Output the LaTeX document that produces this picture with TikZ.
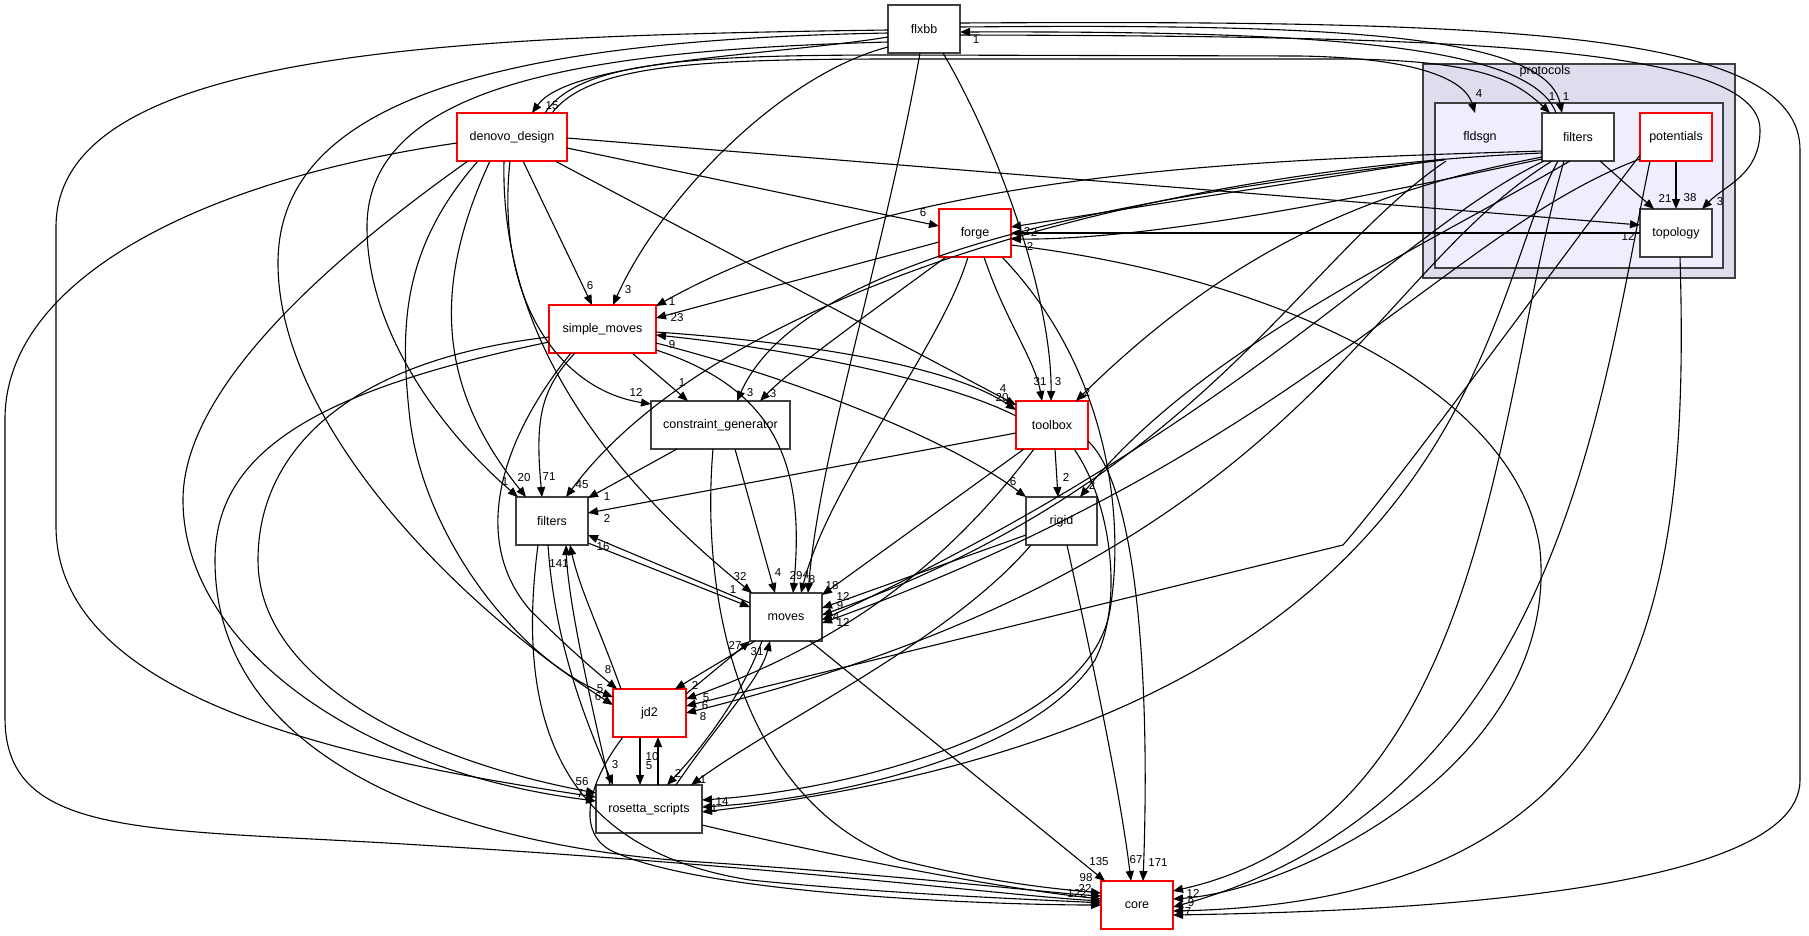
\documentclass[tikz,border=0pt]{standalone}
\usepackage{fontspec}
\setmainfont{Liberation Sans}
\usetikzlibrary{arrows.meta,calc}
\definecolor{ngray}{HTML}{404040}
\definecolor{clout}{HTML}{DDDDEE}
\definecolor{clin}{HTML}{EEEEFF}
\newcommand\nfont{\fontsize{12.5}{14}\selectfont}
\newcommand\lfont{\fontsize{11.5}{13}\selectfont}
\tikzset{
  nd/.style={draw=ngray, line width=1.2pt, fill=white, minimum width=72pt, minimum height=48pt, inner sep=0pt, outer sep=0pt, font=\nfont},
  rn/.style={nd, draw=red},
  e/.style={line width=1.1pt, -{Triangle[length=10pt,width=8pt]}},
  lb/.style={font=\lfont, inner sep=0pt},
}
\begin{document}
\begin{tikzpicture}[x=1pt,y=-1pt]
\useasboundingbox (0,0) rectangle (1809,935);
% clusters
\node[draw=ngray, fill=clout, line width=1.2pt, minimum width=312pt, minimum height=214pt, inner sep=0pt] (cprot) at (1579,171) {};
\node[lb, font=\nfont] (cprotl) at (1545,71) {protocols};
\node[draw=ngray, fill=clin, line width=1.6pt, minimum width=288pt, minimum height=165pt, inner sep=0pt] (cfld) at (1579,185.5) {};
\node[font=\nfont, minimum width=72pt, minimum height=48pt, inner sep=0pt, outer sep=0pt] (fld) at (1480,137) {fldsgn};
\node[nd] (pfil) at (1578,137) {filters};
\node[rn] (pot) at (1676,137) {potentials};
\node[nd] (topo) at (1676,233) {topology};
% nodes
\node[nd] (flx) at (924,29) {flxbb};
\node[rn, minimum width=110pt] (den) at (512,137) {denovo\_design};
\node[rn] (forge) at (975,233) {forge};
\node[rn, minimum width=107pt] (sm) at (602.5,329) {simple\_moves};
\node[nd, minimum width=139pt] (cg) at (720.5,425) {constraint\_generator};
\node[rn] (tb) at (1052,425) {toolbox};
\node[nd] (fil) at (552,521) {filters};
\node[nd, minimum width=71pt] (rig) at (1061.5,521) {rigid};
\node[nd] (mov) at (786,617) {moves};
\node[rn, minimum width=73pt] (jd) at (649.5,713) {jd2};
\node[nd, minimum width=106pt] (ros) at (649,809) {rosetta\_scripts};
\node[rn] (core) at (1137,905) {core};
% edges
\draw[e] ($(flx.north west)+(0,32)$) .. controls (780,55) and (570,60) .. ($(den.north west)+(75,0)$);
\draw[e] ($(flx.north west)+(0,25)$) .. controls (450,36) and (56,50) .. (56,227) -- (56,526) .. controls (56,700) and (350,760) .. ($(ros.north west)+(0,12)$);
\draw[e] ($(den.north west)+(0,30)$) .. controls (200,180) and (5,280) .. (5,419) -- (5,718) .. controls (5,840) and (150,828) .. (420,845) .. controls (800,868) and (1000,895) .. ($(core.north west)+(0,20)$);
\draw[e] ($(flx.north west)+(0,28)$) .. controls (500,40) and (278,100) .. (278,263) .. controls (278,420) and (450,600) .. ($(jd.north west)+(0,16)$);
\draw[e] ($(flx.north west)+(0,37)$) .. controls (600,50) and (367,80) .. (367,227) .. controls (367,330) and (440,430) .. ($(fil.north west)+(2,0)$);
\draw[e] ($(flx.north west)+(0,42)$) .. controls (780,75) and (660,200) .. ($(sm.north west)+(64,0)$);
\draw[e] ($(flx.north west)+(32,48)$) .. controls (885,250) and (820,450) .. ($(mov.north west)+(58,0)$);
\draw[e] ($(flx.north west)+(55,48)$) .. controls (1000,150) and (1052,300) .. ($(tb.north west)+(35,0)$);
\draw[e] ($(forge.north west)+(45,48)$) .. controls (1005,320) and (1035,360) .. ($(tb.north west)+(26,0)$);
\draw[e] ($(den.north west)+(88,0)$) .. controls (580,60) and (700,55) .. (900,55) -- (1300,56) .. controls (1420,58) and (1465,80) .. ($(fld.north west)+(31,0)$);
\draw[e] ($(den.north west)+(95,0)$) .. controls (590,64) and (700,59) .. (900,59) -- (1350,59) .. controls (1480,61) and (1515,80) .. ($(pfil.north west)+(8,0)$);
\draw[e] ($(flx.north west)+(72,22)$) .. controls (1300,24) and (1545,30) .. ($(pfil.north west)+(20,0)$);
\draw[e] ($(pfil.north west)+(14,0)$) .. controls (1530,42) and (1300,31) .. ($(flx.north west)+(72,27)$);
\draw[e] ($(flx.north west)+(72,30)$) .. controls (1450,36) and (1760,45) .. (1760,130) .. controls (1760,175) and (1725,185) .. ($(topo.north west)+(62,0)$);
\draw[e] ($(flx.north west)+(72,18)$) .. controls (1500,20) and (1800,30) .. (1800,150) -- (1800,780) .. controls (1800,900) and (1350,912) .. ($(core.north west)+(72,34)$);
\draw[e] ($(den.north west)+(66,48)$) -- ($(sm.north west)+(43,0)$);
\draw[e] ($(den.north west)+(110,35)$) -- ($(forge.north west)+(0,17)$);
\draw[e] ($(den.north west)+(110,25)$) -- ($(topo.north west)+(0,16)$);
\draw[e] ($(den.north west)+(98,48)$) -- ($(tb.north west)+(0,4)$);
\draw[e] ($(den.north west)+(53,48)$) .. controls (495,300) and (560,390) .. ($(cg.north west)+(0,3)$);
\draw[e] ($(den.north west)+(33,48)$) .. controls (430,290) and (440,390) .. ($(fil.north west)+(10,0)$);
\draw[e] ($(den.north west)+(21,48)$) .. controls (400,250) and (400,330) .. (410,420) .. controls (425,540) and (520,660) .. ($(jd.north west)+(0,8)$);
\draw[e] ($(den.north west)+(47,48)$) .. controls (500,330) and (600,470) .. ($(mov.north west)+(2,0)$);
\draw[e] ($(den.north west)+(11,48)$) .. controls (300,280) and (183,400) .. (183,500) .. controls (183,640) and (350,770) .. ($(ros.north west)+(0,16)$);
\draw[e] ($(sm.north west)+(83,48)$) -- ($(cg.north west)+(37,0)$);
\draw[e] ($(sm.north west)+(26,48)$) .. controls (540,390) and (535,420) .. ($(fil.north west)+(26,0)$);
\draw[e] ($(sm.north west)+(22,48)$) .. controls (500,440) and (470,540) .. (530,610) .. controls (570,650) and (600,675) .. ($(jd.north west)+(4,0)$);
\draw[e] ($(sm.north west)+(107,27)$) .. controls (800,342) and (950,365) .. ($(tb.north west)+(0,9)$);
\draw[e] ($(tb.north west)+(0,15)$) .. controls (950,382) and (800,350) .. ($(sm.north west)+(107,30)$);
\draw[e] ($(sm.north west)+(107,38)$) .. controls (800,380) and (950,440) .. ($(rig.north west)+(0,0)$);
\draw[e] ($(sm.north west)+(107,45)$) .. controls (780,390) and (805,470) .. ($(mov.north west)+(43,0)$);
\draw[e] ($(sm.north west)+(0,32)$) .. controls (350,360) and (258,450) .. (258,560) .. controls (258,680) and (420,760) .. ($(ros.north west)+(0,8)$);
\draw[e] ($(sm.north west)+(0,37)$) .. controls (320,390) and (215,450) .. (215,560) .. controls (215,780) and (500,850) .. (700,862) .. controls (900,875) and (1050,893) .. ($(core.north west)+(0,15)$);
\draw[e] ($(forge.north west)+(0,33)$) -- ($(sm.north west)+(107,13)$);
\draw[e] ($(forge.north west)+(7,48)$) .. controls (860,320) and (790,370) .. ($(cg.north west)+(109,0)$);
\draw[e] ($(forge.north west)+(29,48)$) .. controls (940,350) and (830,480) .. ($(mov.north west)+(51,0)$);
\draw[e] ($(forge.north west)+(63,48)$) .. controls (1110,370) and (1125,520) .. (1110,610) .. controls (1090,730) and (850,790) .. ($(ros.north west)+(106,15)$);
\draw[e] ($(forge.north west)+(72,36)$) .. controls (1300,280) and (1520,400) .. (1540,550) .. controls (1560,760) and (1300,890) .. ($(core.north west)+(72,18)$);
\draw[e] ($(tb.north west)+(0,32)$) -- ($(fil.north west)+(72,16)$);
\draw[e] ($(tb.north west)+(8,48)$) -- ($(mov.north west)+(72,2)$);
\draw[e] ($(tb.north west)+(18,48)$) .. controls (950,560) and (850,640) .. ($(jd.north west)+(73,10)$);
\draw[e] ($(tb.north west)+(39,48)$) -- ($(rig.north west)+(32,0)$);
\draw[e] ($(tb.north west)+(58,48)$) .. controls (1110,500) and (1125,600) .. (1095,660) .. controls (1030,760) and (820,800) .. ($(ros.north west)+(106,22)$);
\draw[e] ($(tb.north west)+(72,40)$) .. controls (1140,490) and (1150,700) .. ($(core.north west)+(42,0)$);
\draw[e] ($(rig.north west)+(0,38)$) -- ($(mov.north west)+(72,15)$);
\draw[e] ($(rig.north west)+(5,48)$) .. controls (950,640) and (780,720) .. ($(ros.north west)+(95,0)$);
\draw[e] ($(rig.north west)+(41,48)$) .. controls (1090,650) and (1120,790) .. ($(core.north west)+(30,0)$);
\draw[e] ($(pfil.north west)+(28,48)$) .. controls (1400,260) and (1200,350) .. ($(rig.north west)+(54,0)$);
\draw[e] ($(pfil.north west)+(0,44)$) .. controls (1400,185) and (1250,230) .. ($(tb.north west)+(60,0)$);
\draw[e] ($(pfil.north west)+(0,38)$) .. controls (1250,160) and (900,170) .. ($(sm.north west)+(107,1)$);
\draw[e] ($(pfil.north west)+(0,40)$) .. controls (1150,170) and (720,290) .. ($(fil.north west)+(50,0)$);
\draw[e] ($(pfil.north west)+(58,48)$) -- ($(topo.north west)+(14,0)$);
\draw[e] ($(pfil.north west)+(0,46)$) .. controls (1350,200) and (1150,240) .. ($(forge.north west)+(72,30)$);
\draw[e] ($(pfil.north west)+(2,48)$) .. controls (1400,230) and (1250,420) .. ($(mov.north west)+(72,27)$);
\draw[e] ($(pfil.north west)+(10,48)$) .. controls (1360,280) and (1300,560) .. ($(jd.north west)+(73,24)$);
\draw[e] ($(pfil.north west)+(16,48)$) .. controls (1480,300) and (1480,720) .. ($(ros.north west)+(106,27)$);
\draw[e] ($(pfil.north west)+(22,48)$) .. controls (1495,400) and (1490,820) .. ($(core.north west)+(72,10)$);
\draw[e] ($(fld.north west)+(0,46)$) -- ($(forge.north west)+(72,18)$);
\draw[e] ($(fld.north west)+(0,47)$) .. controls (1100,200) and (800,260) .. ($(cg.north west)+(86,0)$);
\draw[e] ($(fld.north west)+(2,48)$) .. controls (1300,260) and (1200,480) .. ($(mov.north west)+(72,22)$);
\draw[e] ($(pot.north west)+(36,48)$) -- ($(topo.north west)+(36,0)$);
\draw[e] ($(pot.north west)+(0,42)$) .. controls (1560,260) and (1400,480) .. (1343,545) -- ($(jd.north west)+(73,17)$);
\draw[e] ($(pot.north west)+(10,48)$) .. controls (1600,400) and (1560,800) .. ($(core.north west)+(72,26)$);
\draw[e] ($(pot.north west)+(0,46)$) .. controls (1450,230) and (1300,450) .. ($(mov.north west)+(72,30)$);
\draw[e] ($(topo.north west)+(0,24)$) -- ($(forge.north west)+(72,24)$);
\draw[e] ($(topo.north west)+(40,48)$) .. controls (1690,600) and (1650,900) .. ($(core.north west)+(72,30)$);
\draw[e] ($(fil.north west)+(72,46)$) -- ($(mov.north west)+(0,14)$);
\draw[e] ($(mov.north west)+(0,10)$) -- ($(fil.north west)+(72,38)$);
\draw[e] ($(fil.north west)+(32,48)$) .. controls (555,650) and (590,730) .. ($(ros.north west)+(17,0)$);
\draw[e] ($(fil.north west)+(22,48)$) .. controls (515,720) and (560,850) .. (750,880) .. controls (900,895) and (1050,900) .. ($(core.north west)+(0,22)$);
\draw[e] ($(jd.north west)+(8,0)$) .. controls (600,630) and (580,590) .. ($(fil.north west)+(54,48)$);
\draw[e] ($(ros.north west)+(14,0)$) .. controls (590,700) and (568,600) .. ($(fil.north west)+(50,48)$);
\draw[e] ($(mov.north west)+(5,48)$) -- ($(jd.north west)+(62,0)$);
\draw[e] ($(jd.north west)+(73,5)$) -- ($(mov.north west)+(0,48)$);
\draw[e] ($(mov.north west)+(12,48)$) .. controls (740,700) and (700,750) .. ($(ros.north west)+(71,0)$);
\draw[e] ($(ros.north west)+(80,0)$) .. controls (720,720) and (760,680) .. ($(mov.north west)+(20,48)$);
\draw[e] ($(jd.north west)+(27,48)$) -- ($(ros.north west)+(44,0)$);
\draw[e] ($(ros.north west)+(62,0)$) -- ($(jd.north west)+(45,48)$);
\draw[e] ($(jd.north west)+(10,48)$) .. controls (590,780) and (575,830) .. (610,850) .. controls (700,895) and (1000,905) .. ($(core.north west)+(0,24)$);
\draw[e] ($(ros.north west)+(106,40)$) .. controls (850,860) and (1000,888) .. ($(core.north west)+(0,18)$);
\draw[e] ($(mov.north west)+(60,48)$) -- ($(core.north west)+(4,0)$);
\draw[e] ($(cg.north west)+(84,48)$) -- ($(mov.north west)+(25,0)$);
\draw[e] ($(cg.north west)+(62,48)$) .. controls (700,600) and (740,800) .. (900,860) .. controls (1000,885) and (1070,890) .. ($(core.north west)+(0,12)$);
\draw[e] ($(cg.north west)+(26,48)$) -- ($(fil.north west)+(72,1)$);
% labels
\node[lb] (a1) at (552,106) {15};
\node[lb] (a2) at (582,782) {56};
\node[lb] (a3) at (580,794) {7};
\node[lb] (a4) at (976,40) {1};
\node[lb] (a5) at (1552,97) {1};
\node[lb] (a6) at (1566,97) {1};
\node[lb] (a7) at (1479,94) {4};
\node[lb] (a8) at (1720,202) {3};
\node[lb] (a9) at (590,286) {6};
\node[lb] (a10) at (628,290) {3};
\node[lb] (a11) at (923,213) {6};
\node[lb] (a12) at (1628,236) {12};
\node[lb] (a13) at (1003,389) {4};
\node[lb] (a14) at (1002,398) {20};
\node[lb] (a15) at (636,392) {12};
\node[lb] (a16) at (524,478) {20};
\node[lb] (a17) at (549,477) {71};
\node[lb] (a18) at (505,482) {1};
\node[lb] (a19) at (582,485) {45};
\node[lb] (a20) at (607,497) {1};
\node[lb] (a21) at (607,518) {2};
\node[lb] (a22) at (603,547) {16};
\node[lb] (a23) at (559,564) {141};
\node[lb] (a24) at (600,689) {5};
\node[lb] (a25) at (598,697) {6};
\node[lb] (a26) at (608,670) {8};
\node[lb] (a27) at (740,577) {32};
\node[lb] (a28) at (733,590) {1};
\node[lb] (a29) at (778,573) {4};
\node[lb] (a30) at (796,576) {29};
\node[lb] (a31) at (806,575) {4};
\node[lb] (a32) at (812,580) {8};
\node[lb] (a33) at (832,586) {18};
\node[lb] (a34) at (843,596) {12};
\node[lb] (a35) at (840,606) {9};
\node[lb] (a36) at (836,617) {4};
\node[lb] (a37) at (843,622) {12};
\node[lb] (a38) at (682,383) {1};
\node[lb] (a39) at (750,393) {3};
\node[lb] (a40) at (773,394) {3};
\node[lb] (a41) at (672,302) {1};
\node[lb] (a42) at (677,318) {23};
\node[lb] (a43) at (672,345) {9};
\node[lb] (a44) at (1040,382) {31};
\node[lb] (a45) at (1058,382) {3};
\node[lb] (a46) at (1087,392) {2};
\node[lb] (a47) at (1027,231) {2};
\node[lb] (a48) at (1034,232) {2};
\node[lb] (a49) at (1030,246) {2};
\node[lb] (a50) at (1013,482) {6};
\node[lb] (a51) at (1066,477) {2};
\node[lb] (a52) at (1092,485) {2};
\node[lb] (a53) at (695,685) {2};
\node[lb] (a54) at (735,645) {27};
\node[lb] (a55) at (757,652) {31};
\node[lb] (a56) at (706,698) {5};
\node[lb] (a57) at (705,706) {6};
\node[lb] (a58) at (703,717) {8};
\node[lb] (a59) at (652,757) {10};
\node[lb] (a60) at (649,766) {5};
\node[lb] (a61) at (615,765) {3};
\node[lb] (a62) at (678,773) {2};
\node[lb] (a63) at (703,780) {1};
\node[lb] (a64) at (722,802) {14};
\node[lb] (a65) at (714,809) {1};
\node[lb] (a66) at (1099,862) {135};
\node[lb] (a67) at (1136,860) {67};
\node[lb] (a68) at (1158,863) {171};
\node[lb] (a69) at (1086,878) {98};
\node[lb] (a70) at (1085,888) {22};
\node[lb] (a71) at (1077,893) {122};
\node[lb] (a72) at (1193,893) {12};
\node[lb] (a73) at (1191,903) {9};
\node[lb] (a74) at (1188,912) {7};
\node[lb] (a75) at (1665,198) {21};
\node[lb] (a76) at (1690,198) {38};
\end{tikzpicture}
\end{document}
